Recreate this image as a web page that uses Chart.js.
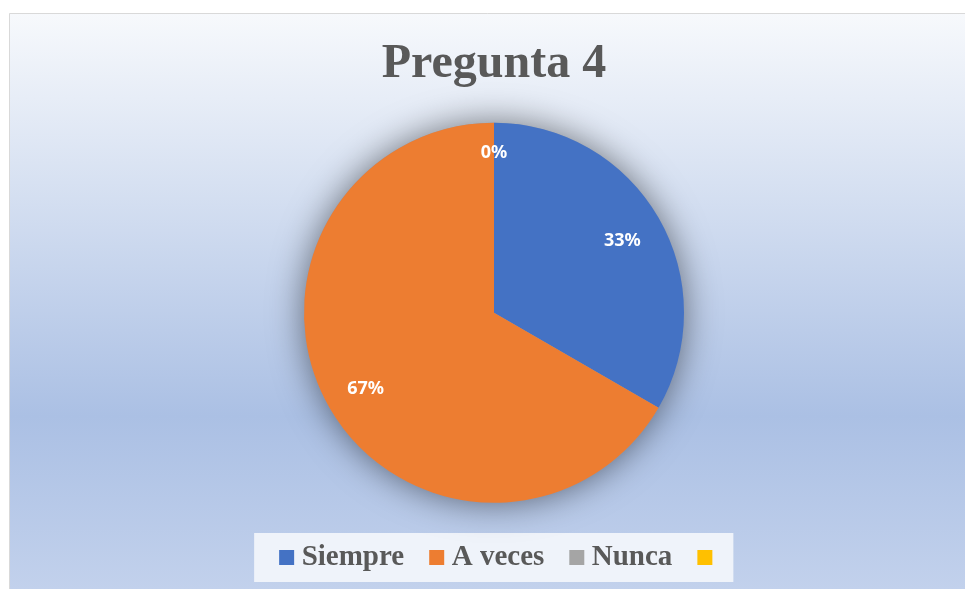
<!DOCTYPE html>
<html>
<head>
<meta charset="utf-8">
<title>Pregunta 4</title>
<script src="https://cdn.jsdelivr.net/npm/chart.js@4.4.0/dist/chart.umd.min.js"></script>
<style>
    html, body { margin: 0; padding: 0; background: #ffffff; }
    canvas { display: block; }
</style>
</head>
<body>
<canvas id="chartPregunta" width="965" height="589"></canvas>
<script>
const categories = ['Siempre', 'A veces', 'Nunca', ''];
const answers = [1, 2, 0, 0];
const sliceColors = ['#4472C4', '#ED7D31', '#A5A5A5', '#FFC000'];

// fondo con degradado y marco
const backgroundPlugin = {
    id: 'fondo',
    afterLayout(chart) {
        // la leyenda de Excel queda un poco a la derecha
        chart.legend.left += 9;
        chart.legend.right += 9;
    },
    beforeDraw(chart) {
        const ctx = chart.ctx;
        const w = chart.width, h = chart.height;
        ctx.save();
        ctx.fillStyle = '#ffffff';
        ctx.fillRect(0, 0, w, h);
        const grad = ctx.createLinearGradient(0, 13, 0, h);
        grad.addColorStop(0, '#f7f9fc');
        grad.addColorStop(0.70, '#abc0e4');
        grad.addColorStop(1, '#c2d1ec');
        ctx.fillStyle = grad;
        ctx.fillRect(9, 13, w - 9, h - 13);
        ctx.strokeStyle = '#d9d9d9';
        ctx.lineWidth = 1;
        ctx.beginPath();
        ctx.moveTo(9.5, h);
        ctx.lineTo(9.5, 13.5);
        ctx.lineTo(w, 13.5);
        ctx.stroke();

        // caja blanca de la leyenda
        const boxes = chart.legend.legendHitBoxes;
        if (boxes && boxes.length) {
            const first = boxes[0], last = boxes[boxes.length - 1];
            const cy = first.top + 14.5;
            ctx.fillStyle = '#eff3fa';
            ctx.fillRect(first.left - 32, cy - 24.5, last.left + 29 - (first.left - 32), 49);
        }
        ctx.restore();
    },
    beforeDatasetsDraw(chart) {
        const arc = chart.getDatasetMeta(0).data[0];
        if (!arc) return;
        const ctx = chart.ctx;
        ctx.save();
        ctx.shadowColor = 'rgba(0, 0, 0, 0.5)';
        ctx.shadowBlur = 34;
        ctx.fillStyle = '#8a9ab8';
        ctx.beginPath();
        ctx.arc(arc.x, arc.y, arc.outerRadius, 0, Math.PI * 2);
        ctx.fill();
        ctx.restore();
    }
};

// etiquetas de porcentaje
const percentPlugin = {
    id: 'porcentajes',
    afterDatasetsDraw(chart) {
        const ctx = chart.ctx;
        const meta = chart.getDatasetMeta(0);
        const total = answers.reduce((s, v) => s + v, 0);
        ctx.save();
        ctx.font = "bold 18px 'Noto Sans'";
        ctx.fillStyle = '#ffffff';
        ctx.textAlign = 'center';
        ctx.textBaseline = 'middle';
        meta.data.forEach((arc, i) => {
            if (!categories[i]) return;
            const p = arc.getProps(['x', 'y', 'startAngle', 'endAngle', 'outerRadius']);
            const mid = (p.startAngle + p.endAngle) / 2;
            const r = p.outerRadius * (answers[i] === 0 ? 0.85 : 0.78);
            const pct = Math.round(answers[i] / total * 100) + '%';
            ctx.fillText(pct, p.x + Math.cos(mid) * r, p.y + Math.sin(mid) * r + 2);
        });
        ctx.restore();
    }
};

const ctx = document.getElementById('chartPregunta').getContext('2d');
new Chart(ctx, {
    type: 'pie',
    data: {
        labels: categories,
        datasets: [{
            data: answers,
            backgroundColor: sliceColors,
            borderWidth: 0,
            radius: 190
        }]
    },
    options: {
        responsive: false,
        animation: false,
        layout: {
            padding: { top: 13, left: 23, right: 0, bottom: 7 }
        },
        plugins: {
            title: {
                display: true,
                text: 'Pregunta 4',
                color: '#595959',
                font: { family: "'Liberation Serif', 'Times New Roman', serif", size: 48, weight: 'bold' },
                padding: { top: 23, bottom: 21 }
            },
            legend: {
                display: true,
                position: 'bottom',
                labels: {
                    usePointStyle: true,
                    pointStyle: 'rect',
                    boxWidth: 1,
                    boxHeight: 15,
                    padding: 32,
                    color: '#595959',
                    font: { family: "'Liberation Serif', 'Times New Roman', serif", size: 29, weight: 'bold' }
                }
            },
            tooltip: { enabled: false }
        }
    },
    plugins: [backgroundPlugin, percentPlugin]
});
</script>
</body>
</html>
